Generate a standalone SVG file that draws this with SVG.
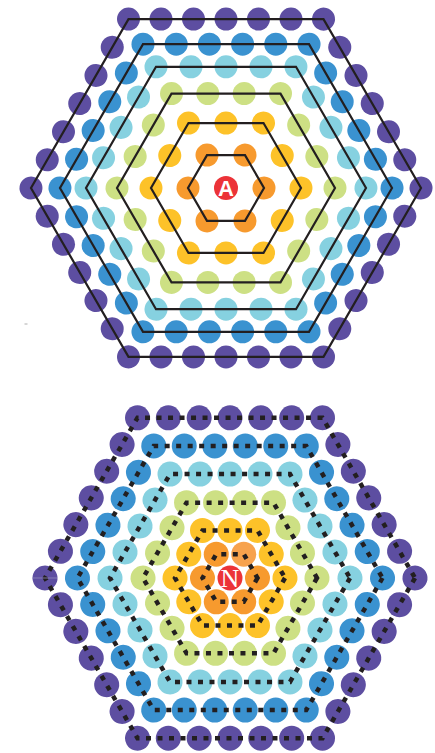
<svg xmlns="http://www.w3.org/2000/svg" width="435" height="753" viewBox="0 0 435 753">
<style>
.p{fill:#5d4ea1}.b{fill:#3a92d0}.c{fill:#86d1e0}.g{fill:#cde084}.y{fill:#fdc229}.o{fill:#f79a2e}.ol{fill:#f7a24d}.r{fill:#ec3338}
.solid{fill:none;stroke:#231f20;stroke-width:2.2;stroke-linejoin:miter}
.dash{fill:none;stroke:#231f20;stroke-width:4.5;stroke-dasharray:5 6.5}
.lbl{fill:#fff;text-anchor:middle}
</style>
<defs>
<g id="ts1"><circle cx="-19" cy="-32.9" r="11.5"/></g>
<g id="ts2"><circle cx="-37.5" cy="-64.95" r="11.5"/><circle cx="0" cy="-64.95" r="11.5"/></g>
<g id="ts3"><circle cx="-54.5" cy="-94.4" r="11.5"/><circle cx="-18.17" cy="-94.4" r="11.5"/><circle cx="18.17" cy="-94.4" r="11.5"/></g>
<g id="ts4"><circle cx="-70" cy="-121.2" r="11.5"/><circle cx="-35" cy="-121.2" r="11.5"/><circle cx="0" cy="-121.2" r="11.5"/><circle cx="35" cy="-121.2" r="11.5"/></g>
<g id="ts5"><circle cx="-83" cy="-143.8" r="11.5"/><circle cx="-49.8" cy="-143.8" r="11.5"/><circle cx="-16.6" cy="-143.8" r="11.5"/><circle cx="16.6" cy="-143.8" r="11.5"/><circle cx="49.8" cy="-143.8" r="11.5"/></g>
<g id="ts6"><circle cx="-97.5" cy="-168.9" r="11.5"/><circle cx="-65" cy="-168.9" r="11.5"/><circle cx="-32.5" cy="-168.9" r="11.5"/><circle cx="0" cy="-168.9" r="11.5"/><circle cx="32.5" cy="-168.9" r="11.5"/><circle cx="65" cy="-168.9" r="11.5"/></g>
<g id="bs2"><circle cx="-27.5" cy="-47.6" r="12.5"/><circle cx="0" cy="-47.6" r="12.5"/></g>
<g id="bs3"><circle cx="-43.5" cy="-75.3" r="12.5"/><circle cx="-14.5" cy="-75.3" r="12.5"/><circle cx="14.5" cy="-75.3" r="12.5"/></g>
<g id="bs4"><circle cx="-60" cy="-103.9" r="12.5"/><circle cx="-30" cy="-103.9" r="12.5"/><circle cx="0" cy="-103.9" r="12.5"/><circle cx="30" cy="-103.9" r="12.5"/></g>
<g id="bs5"><circle cx="-76.25" cy="-132.1" r="12.5"/><circle cx="-45.75" cy="-132.1" r="12.5"/><circle cx="-15.25" cy="-132.1" r="12.5"/><circle cx="15.25" cy="-132.1" r="12.5"/><circle cx="45.75" cy="-132.1" r="12.5"/></g>
<g id="bs6"><circle cx="-92.5" cy="-160.2" r="12.5"/><circle cx="-61.67" cy="-160.2" r="12.5"/><circle cx="-30.83" cy="-160.2" r="12.5"/><circle cx="0" cy="-160.2" r="12.5"/><circle cx="30.83" cy="-160.2" r="12.5"/><circle cx="61.67" cy="-160.2" r="12.5"/></g>
</defs>

<g id="top-grid">
<g id="top-ring-6" class="p" transform="translate(226 188)"><use href="#ts6"/><use href="#ts6" transform="rotate(60)"/><use href="#ts6" transform="rotate(120)"/><use href="#ts6" transform="rotate(180)"/><use href="#ts6" transform="rotate(240)"/><use href="#ts6" transform="rotate(300)"/></g>
<g id="top-ring-5" class="b" transform="translate(226 188)"><use href="#ts5"/><use href="#ts5" transform="rotate(60)"/><use href="#ts5" transform="rotate(120)"/><use href="#ts5" transform="rotate(180)"/><use href="#ts5" transform="rotate(240)"/><use href="#ts5" transform="rotate(300)"/></g>
<g id="top-ring-4" class="c" transform="translate(226 188)"><use href="#ts4"/><use href="#ts4" transform="rotate(60)"/><use href="#ts4" transform="rotate(120)"/><use href="#ts4" transform="rotate(180)"/><use href="#ts4" transform="rotate(240)"/><use href="#ts4" transform="rotate(300)"/></g>
<g id="top-ring-3" class="g" transform="translate(226 188)"><use href="#ts3"/><use href="#ts3" transform="rotate(60)"/><use href="#ts3" transform="rotate(120)"/><use href="#ts3" transform="rotate(180)"/><use href="#ts3" transform="rotate(240)"/><use href="#ts3" transform="rotate(300)"/></g>
<g id="top-ring-2" class="y" transform="translate(226 188)"><use href="#ts2"/><use href="#ts2" transform="rotate(60)"/><use href="#ts2" transform="rotate(120)"/><use href="#ts2" transform="rotate(180)"/><use href="#ts2" transform="rotate(240)"/><use href="#ts2" transform="rotate(300)"/></g>
<g id="top-ring-1" class="o" transform="translate(226 188)"><use href="#ts1"/><use href="#ts1" transform="rotate(60)"/><use href="#ts1" transform="rotate(120)"/><use href="#ts1" transform="rotate(180)"/><use href="#ts1" transform="rotate(240)"/><use href="#ts1" transform="rotate(300)"/></g>
<g id="node-A"><circle cx="226" cy="188" r="12" class="r"/><text x="226" y="196" class="lbl" font-family="Liberation Sans, Arial, sans-serif" font-weight="bold" font-size="22">A</text></g>
</g>

<g id="bottom-grid">
<g id="bottom-ring-6" class="p" transform="translate(230 578)"><use href="#bs6"/><use href="#bs6" transform="rotate(60)"/><use href="#bs6" transform="rotate(120)"/><use href="#bs6" transform="rotate(180)"/><use href="#bs6" transform="rotate(240)"/><use href="#bs6" transform="rotate(300)"/></g>
<g id="bottom-ring-5" class="b" transform="translate(230 578)"><use href="#bs5"/><use href="#bs5" transform="rotate(60)"/><use href="#bs5" transform="rotate(120)"/><use href="#bs5" transform="rotate(180)"/><use href="#bs5" transform="rotate(240)"/><use href="#bs5" transform="rotate(300)"/></g>
<g id="bottom-ring-4" class="c" transform="translate(230 578)"><use href="#bs4"/><use href="#bs4" transform="rotate(60)"/><use href="#bs4" transform="rotate(120)"/><use href="#bs4" transform="rotate(180)"/><use href="#bs4" transform="rotate(240)"/><use href="#bs4" transform="rotate(300)"/></g>
<g id="bottom-ring-3" class="g" transform="translate(230 578)"><use href="#bs3"/><use href="#bs3" transform="rotate(60)"/><use href="#bs3" transform="rotate(120)"/><use href="#bs3" transform="rotate(180)"/><use href="#bs3" transform="rotate(240)"/><use href="#bs3" transform="rotate(300)"/></g>
<g id="bottom-ring-2" class="y" transform="translate(230 578)"><use href="#bs2"/><use href="#bs2" transform="rotate(60)"/><use href="#bs2" transform="rotate(120)"/><use href="#bs2" transform="rotate(180)"/><use href="#bs2" transform="rotate(240)"/><use href="#bs2" transform="rotate(300)"/></g>
<g id="bottom-ring-1" class="o" transform="translate(230 578)"><circle cx="27.5" cy="0" r="12.5"/><circle cx="13.75" cy="23.8" r="12.5"/><circle cx="-13.75" cy="23.8" r="12.5"/><circle cx="-27.5" cy="0" r="12.5"/><circle cx="-13.75" cy="-23.8" r="12.5"/><circle cx="13.75" cy="-23.8" r="12.5" class="ol"/></g>
<g id="node-N"><circle cx="230" cy="578" r="12.5" class="r"/><text x="230" y="586.5" class="lbl" font-family="Liberation Serif, Times New Roman, serif" font-size="26">N</text></g>
</g>

<g id="connectors">
<g transform="translate(226 188)">
<polygon class="solid" points="38,0 19,32.9 -19,32.9 -38,0 -19,-32.9 19,-32.9"/>
<polygon class="solid" points="75,0 37.5,64.95 -37.5,64.95 -75,0 -37.5,-64.95 37.5,-64.95"/>
<polygon class="solid" points="109,0 54.5,94.4 -54.5,94.4 -109,0 -54.5,-94.4 54.5,-94.4"/>
<polygon class="solid" points="140,0 70,121.2 -70,121.2 -140,0 -70,-121.2 70,-121.2"/>
<polygon class="solid" points="166,0 83,143.8 -83,143.8 -166,0 -83,-143.8 83,-143.8"/>
<polygon class="solid" points="195,0 97.5,168.9 -97.5,168.9 -195,0 -97.5,-168.9 97.5,-168.9"/>
</g>
<g transform="translate(230 578)">
<polygon class="dash" points="27.5,0 13.75,23.8 -13.75,23.8 -27.5,0 -13.75,-23.8 13.75,-23.8"/>
<polygon class="dash" points="55,0 27.5,47.6 -27.5,47.6 -55,0 -27.5,-47.6 27.5,-47.6"/>
<polygon class="dash" points="87,0 43.5,75.3 -43.5,75.3 -87,0 -43.5,-75.3 43.5,-75.3"/>
<polygon class="dash" points="120,0 60,103.9 -60,103.9 -120,0 -60,-103.9 60,-103.9"/>
<polygon class="dash" points="152.5,0 76.25,132.1 -76.25,132.1 -152.5,0 -76.25,-132.1 76.25,-132.1"/>
<polygon class="dash" points="185,0 92.5,160.2 -92.5,160.2 -185,0 -92.5,-160.2 92.5,-160.2"/>
</g>
</g>
<line x1="24.5" y1="324" x2="27.5" y2="324" stroke="#9a9a9a" stroke-width="0.8"/>
<line x1="32" y1="578" x2="57" y2="578" stroke="#8f88bb" stroke-width="0.8"/>
</svg>
